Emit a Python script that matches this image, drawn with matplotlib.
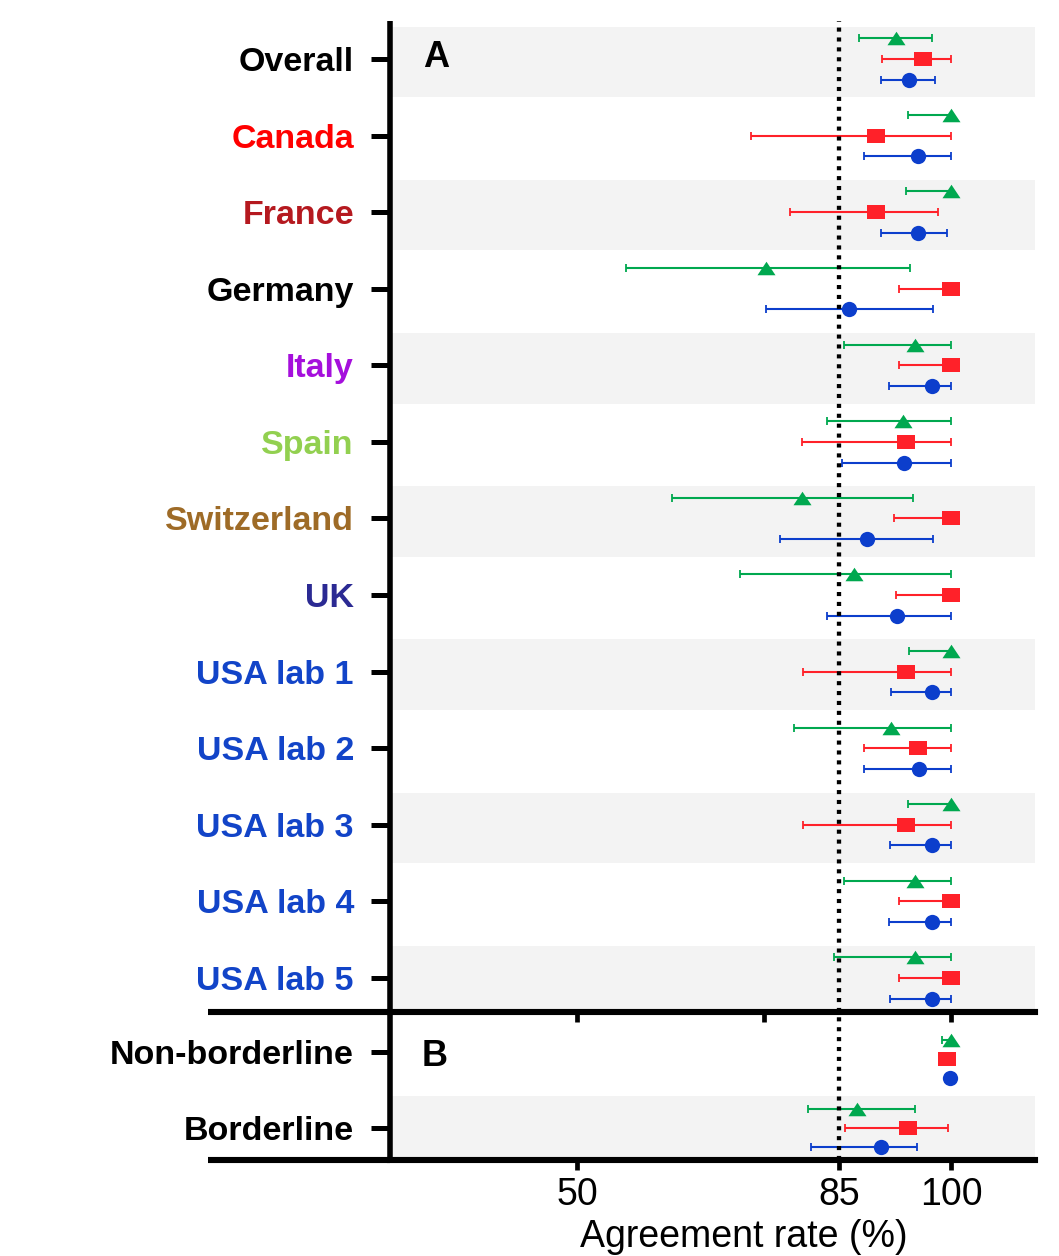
import numpy as np
import matplotlib
matplotlib.use("Agg")
import matplotlib.pyplot as plt

plt.rcParams["font.family"] = ["Liberation Sans", "DejaVu Sans"]

# ---- Panel A: sites -------------------------------------------------------
sites = ["Overall", "Canada", "France", "Germany", "Italy", "Spain",
         "Switzerland", "UK", "USA lab 1", "USA lab 2", "USA lab 3",
         "USA lab 4", "USA lab 5"]
site_colors = ["#000000", "#ff0000", "#b5191f", "#000000", "#a50fdc",
               "#92d050", "#9e6b27", "#2b2a93", "#1244c8", "#1244c8",
               "#1244c8", "#1244c8", "#1244c8"]

# triangle series (estimate, lower, upper)
tri_est_A = [92.6, 100, 100, 75.2, 95.1, 93.5, 80.1, 87.0, 100, 91.9, 100, 95.1, 95.2]
tri_lo_A = [87.7, 94.2, 94.0, 56.6, 85.7, 83.4, 62.7, 71.8, 94.4, 79.0, 94.2, 85.7, 84.4]
tri_hi_A = [97.5, 100, 100, 94.5, 100, 100, 94.9, 100, 100, 100, 100, 100, 100]

# square series
sq_est_A = [96.3, 89.9, 89.9, 100, 100, 94.0, 100, 100, 94.0, 95.6, 94.0, 100, 100]
sq_lo_A = [90.7, 73.3, 78.5, 93.0, 93.0, 80.1, 92.3, 92.6, 80.2, 88.4, 80.2, 93.0, 93.0]
sq_hi_A = [100, 100, 98.3, 100, 100, 100, 100, 100, 100, 100, 100, 100, 100]

# circle series
circ_est_A = [94.3, 95.6, 95.6, 86.4, 97.4, 93.7, 88.8, 92.7, 97.4, 95.7, 97.5, 97.4, 97.5]
circ_lo_A = [90.6, 88.3, 90.6, 75.2, 91.7, 85.4, 77.1, 83.4, 91.9, 88.4, 91.8, 91.7, 91.8]
circ_hi_A = [97.9, 100, 99.4, 97.6, 100, 100, 97.6, 100, 100, 100, 100, 100, 100]

# ---- Panel B: case type ---------------------------------------------------
cases = ["Non-borderline", "Borderline"]
tri_est_B = [100, 87.4]
tri_lo_B = [98.8, 80.8]
tri_hi_B = [100, 95.2]
sq_est_B = [99.5, 94.2]
sq_lo_B = [99.2, 85.8]
sq_hi_B = [99.8, 99.6]
circ_est_B = [99.9, 90.6]
circ_lo_B = [99.6, 81.2]
circ_hi_B = [100, 95.5]

threshold = 85
x_ticks_A = [50, 75, 100]
x_ticks_B = [50, 85, 100]

GREEN = "#00a84f"
RED = "#ff2129"
BLUE = "#0c3ecc"
BAND = "#f3f3f3"

TRI = [(-1, -0.75), (1, -0.75), (0, 0.75)]
SQ = [(-1, -0.84), (1, -0.84), (1, 0.84), (-1, 0.84)]

fig = plt.figure(figsize=(10.59, 12.56), dpi=100)
axA = fig.add_axes([0.3683, 0.1943, 0.6090, 0.7890])
axB = fig.add_axes([0.3683, 0.0764, 0.6090, 0.1179])
# panel A sits above panel B so its bottom line and ticks stay whole
axA.set_zorder(2)
axA.patch.set_visible(False)
axB.set_zorder(1)

SPINE_W = 4.0


def draw_series(ax, ycent, est, lo, hi, color, marker, ms, dy):
    est = np.asarray(est, float)
    lo = np.asarray(lo, float)
    hi = np.asarray(hi, float)
    y = np.asarray(ycent, float) + dy
    ax.errorbar(est, y, xerr=[est - lo, hi - est], fmt="none",
                ecolor=color, elinewidth=1.5, capsize=3.2, capthick=1.3,
                zorder=2)
    ax.plot(est, y, linestyle="none", marker=marker, markersize=ms,
            markerfacecolor=color, markeredgewidth=0, zorder=5)


def style_axes(ax, n_rows, ylim, labels, colors, xticks, show_xlabels,
               banded_rows):
    ax.set_xlim(25, 111.2)
    ax.set_ylim(*ylim)
    for r in banded_rows:
        ax.axhspan(r - 0.42, r + 0.50, color=BAND, lw=0, zorder=0)
    ax.axvline(threshold, color="black", lw=3.1,
               linestyle=(0, (0.95, 1.35)), dash_capstyle="butt", zorder=3)
    for s in ["top", "right"]:
        ax.spines[s].set_visible(False)
    ax.spines["left"].set_linewidth(SPINE_W)
    ax.spines["bottom"].set_linewidth(SPINE_W + 0.4)
    ax.spines["left"].set_capstyle("butt")
    # the x axis line runs on past the y axis, under the row labels
    ax.plot([-0.282, 0], [0, 0], transform=ax.transAxes, color="black",
            lw=SPINE_W + 0.4, clip_on=False, solid_capstyle="butt", zorder=6)
    ax.set_yticks(range(n_rows))
    ax.set_yticklabels(labels, fontsize=24.5, fontweight="bold")
    for lab, c in zip(ax.get_yticklabels(), colors):
        lab.set_color(c)
    ax.tick_params(axis="y", length=14, width=3.6, pad=12, direction="out")
    ax.set_xticks(xticks)
    if show_xlabels:
        ax.set_xticklabels([str(t) for t in xticks], fontsize=27)
        ax.tick_params(axis="x", length=7.5, width=3.4, pad=5)
    else:
        ax.set_xticklabels([])
        ax.tick_params(axis="x", length=7.5, width=3.4)


rowsA = np.arange(len(sites))
style_axes(axA, len(sites), (12.444, -0.496), sites, site_colors,
           x_ticks_A, False, rowsA[::2])
dA = 0.27
draw_series(axA, rowsA, tri_est_A, tri_lo_A, tri_hi_A, GREEN, TRI, 13, -dA)
draw_series(axA, rowsA, sq_est_A, sq_lo_A, sq_hi_A, RED, SQ, 12.8, 0)
draw_series(axA, rowsA, circ_est_A, circ_lo_A, circ_hi_A, BLUE, "o", 11, dA)

rowsB = np.arange(len(cases))
style_axes(axB, len(cases), (1.42, -0.526), cases, ["black", "black"],
           x_ticks_B, True, [1])
groupB = rowsB + np.array([0.09, 0.0])
dB = 0.25
draw_series(axB, groupB, tri_est_B, tri_lo_B, tri_hi_B, GREEN, TRI, 13, -dB)
draw_series(axB, groupB, sq_est_B, sq_lo_B, sq_hi_B, RED, SQ, 12.8, 0)
draw_series(axB, groupB, circ_est_B, circ_lo_B, circ_hi_B, BLUE, "o", 11, dB)

axA.text(0.051, 0.963, "A", transform=axA.transAxes, fontsize=26,
         fontweight="bold", va="center", ha="left")
axB.text(0.049, 0.70, "B", transform=axB.transAxes, fontsize=26,
         fontweight="bold", va="center", ha="left")

fig.text(744 / 1059, 9 / 1256, "Agreement rate (%)", fontsize=27,
         ha="center", va="baseline")

fig.savefig("out.png", dpi=100)
